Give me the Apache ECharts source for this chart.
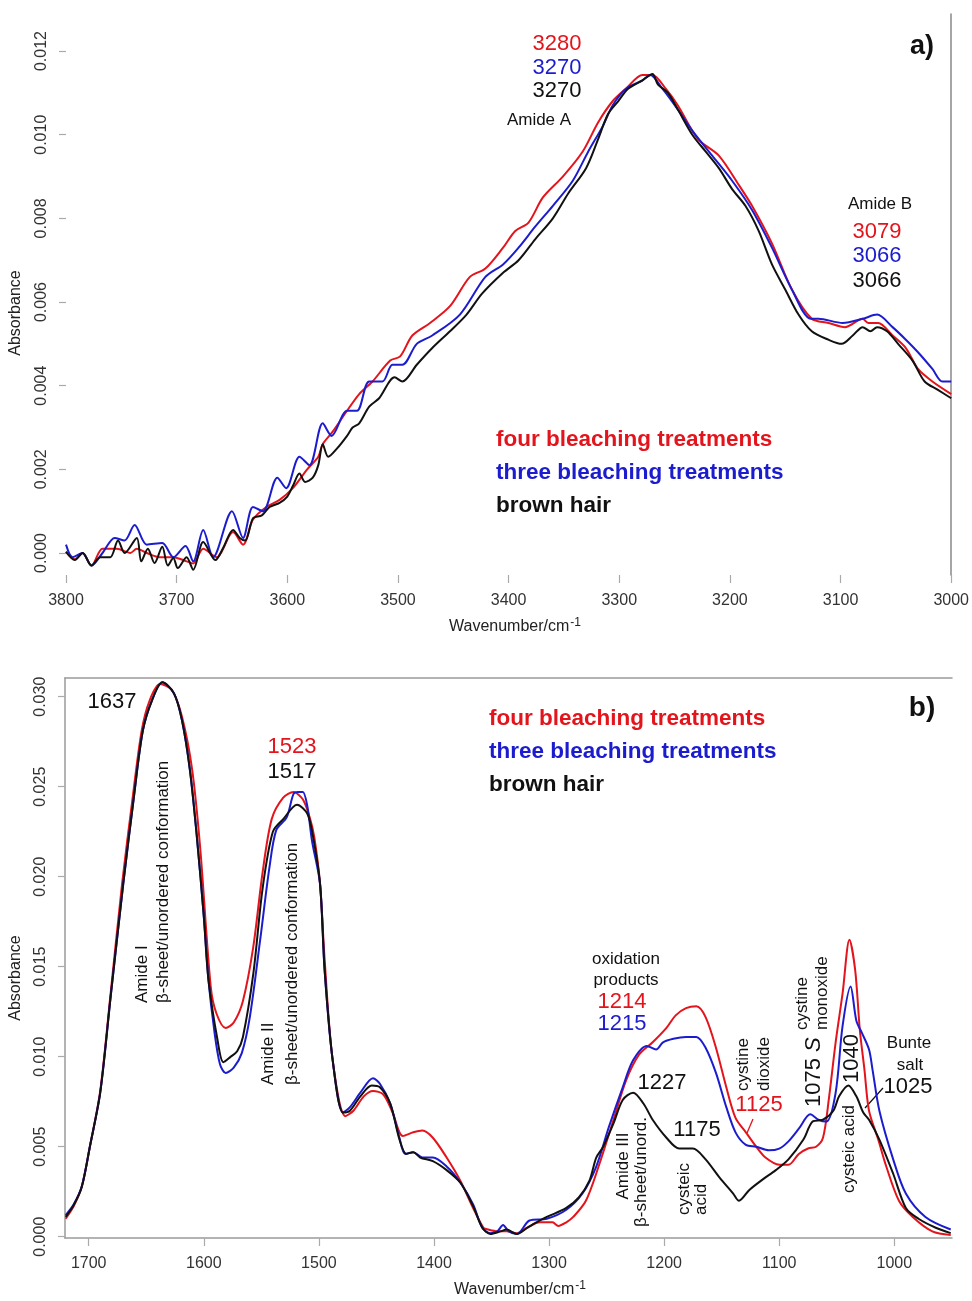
<!DOCTYPE html>
<html>
<head>
<meta charset="utf-8">
<script src="https://cdn.jsdelivr.net/npm/echarts@6/dist/echarts.min.js"></script>
<style>
  html, body { margin: 0; padding: 0; background: #fff; }
  #chart { width: 972px; height: 1301px; }
</style>
</head>
<body>
<div id="chart"></div>
<script>
// panel a) 3800-3000 cm-1, [wavenumber, absorbance]
const fourA = [
  [3800, 0.00003], [3792, -0.00015], [3785, 0], [3777, -0.0003], [3767, 0.0001], [3754, 0.0001],
  [3742, 0], [3736, 0.0001], [3727, 0], [3715, -0.0001], [3703, -0.0001], [3691, -0.0002],
  [3685, -0.00025], [3676, 0.0001], [3664, -0.0001], [3649, 0.0005], [3640, 0.0002], [3631, 0.0008],
  [3619, 0.0011], [3607, 0.00127], [3595, 0.00155], [3582, 0.002], [3572, 0.0023], [3568, 0.0026],
  [3559, 0.0029], [3546, 0.0034], [3535, 0.0038], [3523, 0.0041], [3507, 0.0046], [3498, 0.0047],
  [3487, 0.0052], [3471, 0.0055], [3453, 0.0059], [3435, 0.0066], [3421, 0.0068], [3405, 0.0073],
  [3394, 0.0077], [3382, 0.0079], [3369, 0.0085], [3351, 0.009], [3333, 0.0096], [3319, 0.0103],
  [3306, 0.0108], [3294, 0.0111], [3279, 0.01143], [3270, 0.01143], [3258, 0.0111], [3247, 0.0107],
  [3229, 0.0099], [3210, 0.0095], [3192, 0.0088], [3180, 0.0083], [3162, 0.0074], [3144, 0.0063],
  [3126, 0.0056], [3111, 0.0055], [3096, 0.0054], [3080, 0.0056], [3075, 0.0055], [3066, 0.0055],
  [3053, 0.0052], [3041, 0.0049], [3030, 0.0044], [3017, 0.0041], [3000, 0.0038]
]
const threeA = [
  [3800, 0.0002], [3794, -0.0001], [3785, 0], [3777, -0.0003], [3767, 0], [3756, 0.00036],
  [3747, 0.0003], [3738, 0.00067], [3727, 0.0002], [3713, 0.00024], [3703, -0.0001], [3692, 0.00017],
  [3685, -0.0002], [3676, 0.00055], [3667, -0.0001], [3650, 0.001], [3640, 0.00036], [3631, 0.0011],
  [3622, 0.001], [3609, 0.0018], [3601, 0.00155], [3589, 0.0023], [3580, 0.0021], [3568, 0.0031],
  [3560, 0.0028], [3546, 0.0034], [3537, 0.0034], [3526, 0.0041], [3514, 0.0041], [3505, 0.0045],
  [3496, 0.0045], [3483, 0.005], [3469, 0.0052], [3444, 0.0057], [3421, 0.0066], [3405, 0.0069],
  [3391, 0.0073], [3376, 0.0078], [3360, 0.0083], [3342, 0.0089], [3328, 0.0096], [3315, 0.0102],
  [3306, 0.0107], [3294, 0.0111], [3279, 0.0113], [3272, 0.01143], [3261, 0.0111], [3247, 0.0106],
  [3234, 0.0101], [3216, 0.0095], [3198, 0.0089], [3180, 0.0082], [3162, 0.0073], [3144, 0.0063],
  [3127, 0.0056], [3120, 0.0056], [3098, 0.0055], [3080, 0.0056], [3067, 0.0057], [3053, 0.0054],
  [3041, 0.0051], [3030, 0.0048], [3017, 0.0044], [3008, 0.0041], [3000, 0.0041]
]
const brownA = [
  [3800, 0.00003], [3792, -0.00017], [3785, 0], [3777, -0.0003], [3769, -0.0001], [3760, -0.0001],
  [3753, 0.0003], [3747, 0], [3736, 0.00036], [3732, -0.0002], [3726, 0.0001], [3720, -0.00024],
  [3713, 0.00015], [3708, -0.0003], [3703, -0.00012], [3699, -0.00036], [3691, -0.0001], [3685, -0.0004],
  [3676, 0.00026], [3665, -0.00017], [3658, 0.00012], [3649, 0.00055], [3643, 0.00036], [3638, 0.0003],
  [3631, 0.00083], [3623, 0.0009], [3616, 0.0011], [3607, 0.0012], [3600, 0.00135], [3595, 0.0016],
  [3589, 0.0019], [3584, 0.0017], [3577, 0.0018], [3572, 0.0021], [3568, 0.0026], [3563, 0.0023],
  [3555, 0.0025], [3546, 0.0028], [3541, 0.003], [3535, 0.0031], [3526, 0.0035], [3517, 0.0037],
  [3503, 0.0042], [3496, 0.0041], [3483, 0.0045], [3469, 0.0049], [3453, 0.0053], [3438, 0.0057],
  [3424, 0.0062], [3405, 0.0067], [3391, 0.007], [3376, 0.0075], [3360, 0.008], [3346, 0.0086],
  [3330, 0.0092], [3319, 0.0099], [3310, 0.0105], [3301, 0.0108], [3292, 0.0111], [3279, 0.0113],
  [3270, 0.01145], [3265, 0.0112], [3256, 0.011], [3247, 0.0106], [3234, 0.01], [3222, 0.0096],
  [3210, 0.0092], [3198, 0.0087], [3186, 0.0083], [3174, 0.0077], [3162, 0.0069], [3150, 0.0063],
  [3138, 0.0057], [3126, 0.0053], [3111, 0.0051], [3099, 0.005], [3089, 0.0052], [3080, 0.0054],
  [3073, 0.0053], [3067, 0.0054], [3058, 0.0053], [3048, 0.005], [3035, 0.0046], [3024, 0.0041],
  [3012, 0.0039], [3000, 0.0037]
]

// panel b) 1720-950 cm-1
const fourB = [
  [1720, 0.001], [1713, 0.0017], [1706, 0.0028], [1699, 0.005], [1690, 0.0081], [1681, 0.0135],
  [1671, 0.0196], [1662, 0.0243], [1654, 0.0281], [1647, 0.0298], [1638, 0.0307], [1628, 0.0304],
  [1619, 0.0289], [1610, 0.0259], [1603, 0.0215], [1594, 0.0139], [1589, 0.0124], [1581, 0.0116],
  [1574, 0.0119], [1566, 0.0131], [1557, 0.0161], [1549, 0.0202], [1541, 0.0232], [1531, 0.0244],
  [1522, 0.0247], [1514, 0.0243], [1508, 0.0233], [1504, 0.0222], [1499, 0.0196], [1495, 0.0154],
  [1488, 0.0098], [1477, 0.0067], [1470, 0.007], [1461, 0.0078], [1453, 0.0081], [1444, 0.0079],
  [1436, 0.0069], [1427, 0.0056], [1418, 0.0058], [1410, 0.0059], [1401, 0.0055], [1389, 0.0044],
  [1377, 0.0031], [1366, 0.0016], [1357, 0.0005], [1353, 0.0004], [1345, 0.0003], [1337, 0.0003],
  [1328, 0.0002], [1319, 0.0005], [1308, 0.0008], [1297, 0.0008], [1292, 0.0006], [1285, 0.0008],
  [1279, 0.0011], [1268, 0.002], [1257, 0.0039], [1244, 0.0065], [1233, 0.0087], [1222, 0.0101],
  [1210, 0.0108], [1198, 0.0116], [1190, 0.0123], [1181, 0.0127], [1172, 0.0128], [1164, 0.0122],
  [1155, 0.0105], [1146, 0.0083], [1138, 0.0066], [1129, 0.0058], [1120, 0.005], [1112, 0.0044],
  [1100, 0.004], [1092, 0.004], [1083, 0.0046], [1075, 0.0049], [1068, 0.005], [1062, 0.0055],
  [1057, 0.0076], [1051, 0.0108], [1045, 0.0135], [1039, 0.0165], [1034, 0.0148], [1030, 0.0115],
  [1026, 0.0093], [1022, 0.007], [1014, 0.0054], [1007, 0.0039], [996, 0.002], [984, 0.0011],
  [967, 0.0003], [951, 0.0001]
]
const threeB = [
  [1720, 0.0012], [1713, 0.0018], [1706, 0.0028], [1699, 0.005], [1690, 0.008], [1681, 0.0133],
  [1670, 0.0196], [1661, 0.0243], [1653, 0.0281], [1645, 0.0298], [1636, 0.0308], [1626, 0.0302],
  [1619, 0.0287], [1612, 0.0259], [1606, 0.0222], [1600, 0.0178], [1596, 0.0143], [1591, 0.0115],
  [1586, 0.0096], [1581, 0.0091], [1574, 0.0094], [1567, 0.0102], [1560, 0.0122], [1551, 0.0165],
  [1543, 0.0205], [1537, 0.0226], [1528, 0.0233], [1522, 0.0246], [1518, 0.0247], [1514, 0.0247],
  [1510, 0.0239], [1506, 0.022], [1499, 0.0196], [1495, 0.0148], [1488, 0.0098], [1479, 0.0069],
  [1473, 0.0072], [1464, 0.008], [1453, 0.0088], [1447, 0.0085], [1438, 0.0074], [1430, 0.0055],
  [1425, 0.0046], [1418, 0.0047], [1410, 0.0044], [1401, 0.0044], [1389, 0.0039], [1377, 0.003],
  [1366, 0.0018], [1358, 0.0005], [1351, 0.0002], [1345, 0.0003], [1340, 0.00065], [1335, 0.0003],
  [1328, 0.00015], [1317, 0.0009], [1302, 0.001], [1285, 0.0015], [1271, 0.0024], [1259, 0.0039],
  [1248, 0.0061], [1236, 0.0083], [1227, 0.0098], [1215, 0.0106], [1207, 0.0104], [1201, 0.0108],
  [1192, 0.011], [1181, 0.0111], [1172, 0.0111], [1164, 0.0105], [1155, 0.0091], [1146, 0.0072],
  [1138, 0.0058], [1129, 0.0051], [1120, 0.005], [1109, 0.0048], [1100, 0.0049], [1092, 0.0053],
  [1083, 0.006], [1073, 0.0068], [1066, 0.0065], [1059, 0.0064], [1051, 0.008], [1045, 0.0117],
  [1038, 0.0139], [1033, 0.012], [1028, 0.0113], [1022, 0.0104], [1019, 0.0093], [1013, 0.007],
  [1001, 0.0043], [990, 0.0024], [973, 0.0011], [951, 0.0004]
]
const brownB = [
  [1720, 0.0011], [1713, 0.00176], [1706, 0.00276], [1699, 0.005], [1690, 0.008], [1681, 0.0133],
  [1670, 0.0196], [1661, 0.0243], [1653, 0.0281], [1645, 0.0298], [1636, 0.0308], [1626, 0.0302],
  [1619, 0.0287], [1612, 0.0259], [1606, 0.0222], [1600, 0.0178], [1596, 0.0143], [1588, 0.0109],
  [1583, 0.0097], [1577, 0.00998], [1571, 0.0103], [1566, 0.0111], [1557, 0.0146], [1549, 0.0193],
  [1540, 0.0225], [1531, 0.0232], [1519, 0.024], [1510, 0.0235], [1505, 0.0222], [1499, 0.0196],
  [1495, 0.0148], [1488, 0.0098], [1479, 0.0069], [1473, 0.007], [1464, 0.0078], [1454, 0.0084],
  [1447, 0.0083], [1438, 0.0074], [1430, 0.0054], [1424, 0.0046], [1418, 0.0047], [1412, 0.0044],
  [1401, 0.0042], [1389, 0.0037], [1377, 0.003], [1366, 0.0017], [1358, 0.0005], [1351, 0.00015],
  [1342, 0.0003], [1337, 0.0004], [1328, 0.00015], [1319, 0.0005], [1311, 0.0008], [1302, 0.0011],
  [1285, 0.0016], [1274, 0.0022], [1265, 0.0031], [1259, 0.0044], [1253, 0.005], [1244, 0.0063],
  [1236, 0.0076], [1227, 0.008], [1218, 0.0074], [1210, 0.0065], [1198, 0.0055], [1187, 0.0049],
  [1175, 0.0049], [1164, 0.0043], [1152, 0.0033], [1140, 0.0024], [1135, 0.002], [1126, 0.0026],
  [1114, 0.0032], [1103, 0.0037], [1092, 0.0043], [1079, 0.0054], [1071, 0.0064], [1062, 0.0065],
  [1053, 0.007], [1048, 0.0078], [1040, 0.0084], [1033, 0.0078], [1027, 0.0069], [1022, 0.0065],
  [1013, 0.0054], [1001, 0.0035], [990, 0.0016], [979, 0.001], [964, 0.0005], [951, 0.0002]
]

const xTicksA = [3800, 3700, 3600, 3500, 3400, 3300, 3200, 3100, 3000]
const yTicksA = [0, 0.002, 0.004, 0.006, 0.008, 0.010, 0.012]
const xTicksB = [1700, 1600, 1500, 1400, 1300, 1200, 1100, 1000]
const yTicksB = [0, 0.005, 0.010, 0.015, 0.020, 0.025, 0.030]

const RED = '#e3141b'
const BLUE = '#1c1ccf'
const BLACK = '#111111'
const AXIS_GREY = '#9a9a9a'
const FONT = '"Liberation Sans", Arial, sans-serif'

const chart = echarts.init(document.getElementById('chart'), null, { renderer: 'canvas' })

function xAxisFor(gridIndex, min, max, ticks, showLine) {
  return {
    type: 'value',
    gridIndex,
    inverse: true,
    min,
    max,
    axisLine: { show: showLine, onZero: false, lineStyle: { color: AXIS_GREY, width: 1.5 } },
    axisTick: { show: true, customValues: ticks, length: 8, lineStyle: { color: '#aaaaaa', width: 1.2 } },
    axisLabel: {
      customValues: ticks,
      margin: 18,
      color: '#333',
      fontSize: 16,
      fontFamily: FONT,
      formatter: v => String(v)
    },
    splitLine: { show: false }
  }
}

function yAxisFor(gridIndex, min, max, ticks, showLine) {
  return {
    type: 'value',
    gridIndex,
    min,
    max,
    axisLine: { show: showLine, onZero: false, lineStyle: { color: AXIS_GREY, width: 1.5 } },
    axisTick: { show: true, customValues: ticks, length: 7, lineStyle: { color: '#aaaaaa', width: 1.2 } },
    axisLabel: {
      customValues: ticks,
      rotate: 90,
      margin: 16,
      color: '#333',
      fontSize: 16,
      fontFamily: FONT,
      formatter: v => v.toFixed(3)
    },
    splitLine: { show: false }
  }
}

function lineSeries(data, color, xi, yi) {
  return {
    type: 'line',
    xAxisIndex: xi,
    yAxisIndex: yi,
    data,
    smooth: 0.3,
    symbol: 'none',
    lineStyle: { color, width: 2 },
    silent: true
  }
}

function txt(x, y, text, fill, size, extra) {
  return {
    type: 'text',
    x,
    y,
    silent: true,
    style: Object.assign({
      text,
      fill,
      font: size + 'px ' + FONT,
      align: 'center',
      verticalAlign: 'middle'
    }, extra || {})
  }
}

// rotated text reading bottom-to-top, starting at (x, y)
function vtxt(x, y, text, fill, size, align, rich) {
  return {
    type: 'text',
    x,
    y,
    rotation: Math.PI / 2,
    silent: true,
    style: {
      text,
      fill,
      font: size + 'px ' + FONT,
      align: align || 'left',
      verticalAlign: 'middle',
      rich: rich || undefined
    }
  }
}

function bold(x, y, text, fill, size) {
  return {
    type: 'text',
    x,
    y,
    silent: true,
    style: { text, fill, font: 'bold ' + size + 'px ' + FONT, align: 'left', verticalAlign: 'middle' }
  }
}

const supRich = { s: { fontSize: 12, fontFamily: FONT, fill: '#222', padding: [0, 0, 8, 1] } }

const graphics = [
  // axis titles
  vtxt(16, 313, 'Absorbance', '#222', 16, 'center'),
  vtxt(16, 978, 'Absorbance', '#222', 16, 'center'),
  txt(515, 627, 'Wavenumber/cm{s|-1}', '#222', 16, { rich: supRich }),
  txt(520, 1290, 'Wavenumber/cm{s|-1}', '#222', 16, { rich: supRich }),

  // panel a annotations
  txt(557, 44, '3280', RED, 22),
  txt(557, 68, '3270', BLUE, 22),
  txt(557, 91, '3270', BLACK, 22),
  txt(539, 120, 'Amide A', BLACK, 17),
  txt(880, 204, 'Amide B', BLACK, 17),
  txt(877, 232, '3079', RED, 22),
  txt(877, 256, '3066', BLUE, 22),
  txt(877, 281, '3066', BLACK, 22),
  txt(922, 47, 'a)', BLACK, 27, { font: 'bold 27px ' + FONT }),
  bold(496, 440, 'four bleaching treatments', RED, 22.5),
  bold(496, 473, 'three bleaching treatments', BLUE, 22.5),
  bold(496, 506, 'brown hair', BLACK, 22.5),

  // panel b annotations
  txt(922, 708, 'b)', BLACK, 28, { font: 'bold 28px ' + FONT }),
  bold(489, 719, 'four bleaching treatments', RED, 22.5),
  bold(489, 752, 'three bleaching treatments', BLUE, 22.5),
  bold(489, 785, 'brown hair', BLACK, 22.5),
  txt(112, 702, '1637', BLACK, 22),
  txt(292, 747, '1523', RED, 22),
  txt(292, 772, '1517', BLACK, 22),
  vtxt(142, 1003, 'Amide I', BLACK, 17),
  vtxt(163, 1003, 'β-sheet/unordered conformation', BLACK, 17),
  vtxt(268, 1085, 'Amide II', BLACK, 17),
  vtxt(292, 1085, 'β-sheet/unordered conformation', BLACK, 17),
  txt(626, 959, 'oxidation', BLACK, 17),
  txt(626, 980, 'products', BLACK, 17),
  txt(622, 1002, '1214', RED, 22),
  txt(622, 1024, '1215', BLUE, 22),
  txt(662, 1083, '1227', BLACK, 22),
  txt(697, 1130, '1175', BLACK, 22),
  vtxt(623, 1166, 'Amide III', BLACK, 17, 'center'),
  vtxt(641, 1172, 'β-sheet/unord.', BLACK, 17, 'center'),
  vtxt(684, 1215, 'cysteic', BLACK, 17),
  vtxt(701, 1215, 'acid', BLACK, 17),
  vtxt(743, 1091, 'cystine', BLACK, 17),
  vtxt(764, 1091, 'dioxide', BLACK, 17),
  txt(759, 1105, '1125', RED, 22),
  { type: 'line', silent: true, shape: { x1: 747, y1: 1133, x2: 753, y2: 1119 }, style: { stroke: RED, lineWidth: 1.3 } },
  vtxt(802, 1030, 'cystine', BLACK, 17),
  vtxt(822, 1030, 'monoxide', BLACK, 17),
  vtxt(814, 1107, '1075 {i|S}', BLACK, 22, 'left', {
    i: { fontSize: 22, fontStyle: 'italic', fontFamily: FONT, fill: BLACK }
  }),
  vtxt(852, 1083, '1040', BLACK, 22),
  vtxt(849, 1193, 'cysteic acid', BLACK, 17),
  txt(909, 1043, 'Bunte', BLACK, 17),
  txt(910, 1065, 'salt', BLACK, 17),
  txt(908, 1087, '1025', BLACK, 22),
  { type: 'line', silent: true, shape: { x1: 865, y1: 1108, x2: 883, y2: 1088 }, style: { stroke: BLACK, lineWidth: 1.2 } }
]

const option = {
  animation: false,
  backgroundColor: '#ffffff',
  grid: [
    { left: 66, right: 20, top: 14, bottom: 726 },
    { left: 65, right: 20, top: 678, bottom: 63 }
  ],
  xAxis: [
    xAxisFor(0, 3000, 3800, xTicksA, false),
    xAxisFor(1, 949.9, 1720.6, xTicksB, true),
    {
      type: 'value', gridIndex: 1, position: 'top', inverse: true, min: 949.9, max: 1720.6,
      axisLine: { show: true, onZero: false, lineStyle: { color: AXIS_GREY, width: 1.5 } },
      axisTick: { show: false }, axisLabel: { show: false }, splitLine: { show: false }
    }
  ],
  yAxis: [
    yAxisFor(0, -0.000526, 0.012886, yTicksA, false),
    {
      type: 'value', gridIndex: 0, position: 'right', min: -0.000526, max: 0.012886,
      axisLine: { show: true, onZero: false, lineStyle: { color: '#888', width: 1.5 } },
      axisTick: { show: false }, axisLabel: { show: false }, splitLine: { show: false }
    },
    yAxisFor(1, -0.00007, 0.03104, yTicksB, true)
  ],
  series: [
    lineSeries(fourA, RED, 0, 0),
    lineSeries(threeA, BLUE, 0, 0),
    lineSeries(brownA, BLACK, 0, 0),
    lineSeries(fourB, RED, 1, 2),
    lineSeries(threeB, BLUE, 1, 2),
    lineSeries(brownB, BLACK, 1, 2)
  ],
  graphic: graphics
}

chart.setOption(option)
</script>
</body>
</html>
